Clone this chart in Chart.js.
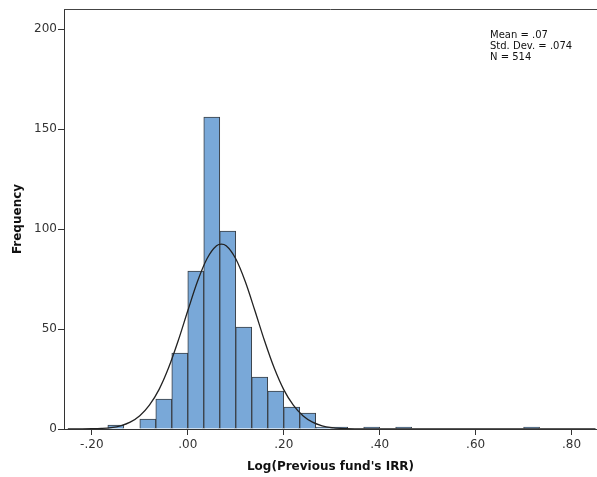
<!DOCTYPE html>
<html>
<head>
<meta charset="utf-8">
<script src="https://cdn.jsdelivr.net/npm/chart.js@4"></script>
<style>
  html, body { margin: 0; padding: 0; background: #fff; overflow: hidden; }
  #wrap { width: 597px; height: 477px; }
</style>
</head>
<body>
<div id="wrap"><canvas id="myChart" width="597" height="477"></canvas></div>
<script>
  // histogram bins: width 1/30, first bin starts at -1/6
  const binStart = -1 / 6;
  const binWidth = 1 / 30;
  const counts = [2, 0, 5, 15, 38, 79, 156, 99, 51, 26, 19, 11, 8, 1, 1, 0, 1, 0, 1, 0, 0, 0, 0, 0, 0, 0, 1];

  // normal curve
  const curveX = [-0.25, -0.22, -0.20, -0.18, -0.16, -0.14, -0.12, -0.10, -0.08, -0.06, -0.04, -0.02, 0.00, 0.02, 0.04, 0.06, 0.07, 0.08, 0.10, 0.12, 0.14, 0.16, 0.18, 0.20, 0.22, 0.24, 0.26, 0.28, 0.30, 0.32, 0.36, 0.40, 0.85];
  const curveY = [0, 0.04, 0.12, 0.3, 0.7, 1.6, 3.4, 6.6, 11.9, 19.7, 30.6, 44.1, 59.1, 73.6, 85.1, 91.6, 92.4, 91.6, 85.1, 73.6, 59.1, 44.1, 30.6, 19.7, 11.9, 6.6, 3.4, 1.6, 0.7, 0.3, 0.03, 0, 0];

  const xTicks = [-0.2, 0, 0.2, 0.4, 0.6, 0.8];
  const yTicks = [0, 50, 100, 150, 200];
  const statsLines = ['Mean = .07', 'Std. Dev. = .074', 'N = 514'];

  const barData = counts.map((c, i) => ({ x: binStart + (i + 0.5) * binWidth, y: c }));
  const lineData = curveX.map((x, i) => ({ x: x, y: curveY[i] }));

  const fmt = v => {
    if (Math.abs(v) < 1e-9) return '.00';
    const s = Math.abs(v).toFixed(2).replace(/^0/, '');
    return (v < 0 ? '-' : '') + s;
  };

  const frameAndStats = {
    id: 'frameAndStats',
    afterDraw(chart) {
      const ctx = chart.ctx;
      const a = chart.chartArea;
      ctx.save();
      ctx.strokeStyle = '#444';
      ctx.lineWidth = 1;
      ctx.beginPath();
      ctx.moveTo(a.left, a.top + 0.5);
      ctx.lineTo(a.right, a.top + 0.5);
      ctx.stroke();
      ctx.fillStyle = '#111';
      ctx.font = "10px 'DejaVu Sans'";
      ctx.textBaseline = 'middle';
      statsLines.forEach((t, i) => ctx.fillText(t, 490, 35 + i * 11));
      ctx.restore();
    }
  };

  const config = {
    type: 'bar',
    data: {
      datasets: [
        {
          type: 'line',
          data: lineData,
          borderColor: '#222',
          borderWidth: 1.3,
          pointRadius: 0,
          fill: false,
          cubicInterpolationMode: 'monotone',
          order: 0
        },
        {
          type: 'bar',
          data: barData,
          backgroundColor: '#79a8d8',
          borderColor: '#3a3f45',
          borderWidth: 1,
          barPercentage: 1,
          categoryPercentage: 1,
          order: 1
        }
      ]
    },
    options: {
      responsive: false,
      animation: false,
      layout: { padding: { top: 9, right: 0, left: 0, bottom: 0 } },
      plugins: { legend: { display: false }, tooltip: { enabled: false } },
      scales: {
        x: {
          type: 'linear',
          min: -0.258,
          max: 0.853,
          offset: false,
          afterFit: s => { s.height = 48; },
          afterBuildTicks: s => { s.ticks = xTicks.map(v => ({ value: v })); },
          grid: { offset: false, drawOnChartArea: false, drawTicks: true, tickLength: 6, color: '#333' },
          border: { display: true, color: '#333', width: 1 },
          ticks: { callback: v => fmt(v), color: '#333', padding: 3, maxRotation: 0,
                   font: { family: 'DejaVu Sans', size: 12 } },
          title: { display: true, text: "Log(Previous fund's IRR)", color: '#111',
                   padding: { top: 0, bottom: 3 },
                   font: { family: 'DejaVu Sans', size: 12, weight: 'bold' } }
        },
        y: {
          min: 0,
          max: 210,
          afterFit: s => { s.width = 64; },
          afterBuildTicks: s => { s.ticks = yTicks.map(v => ({ value: v })); },
          grid: { drawOnChartArea: false, drawTicks: true, tickLength: 6, color: '#333' },
          border: { display: true, color: '#333', width: 1 },
          ticks: { color: '#333', padding: 1, font: { family: 'DejaVu Sans', size: 12 } },
          title: { display: true, text: 'Frequency', color: '#111',
                   padding: { top: 11, bottom: 0 },
                   font: { family: 'DejaVu Sans', size: 12, weight: 'bold' } }
        }
      }
    },
    plugins: [frameAndStats]
  };

  const myChart = new Chart(document.getElementById('myChart'), config);
</script>
</body>
</html>
